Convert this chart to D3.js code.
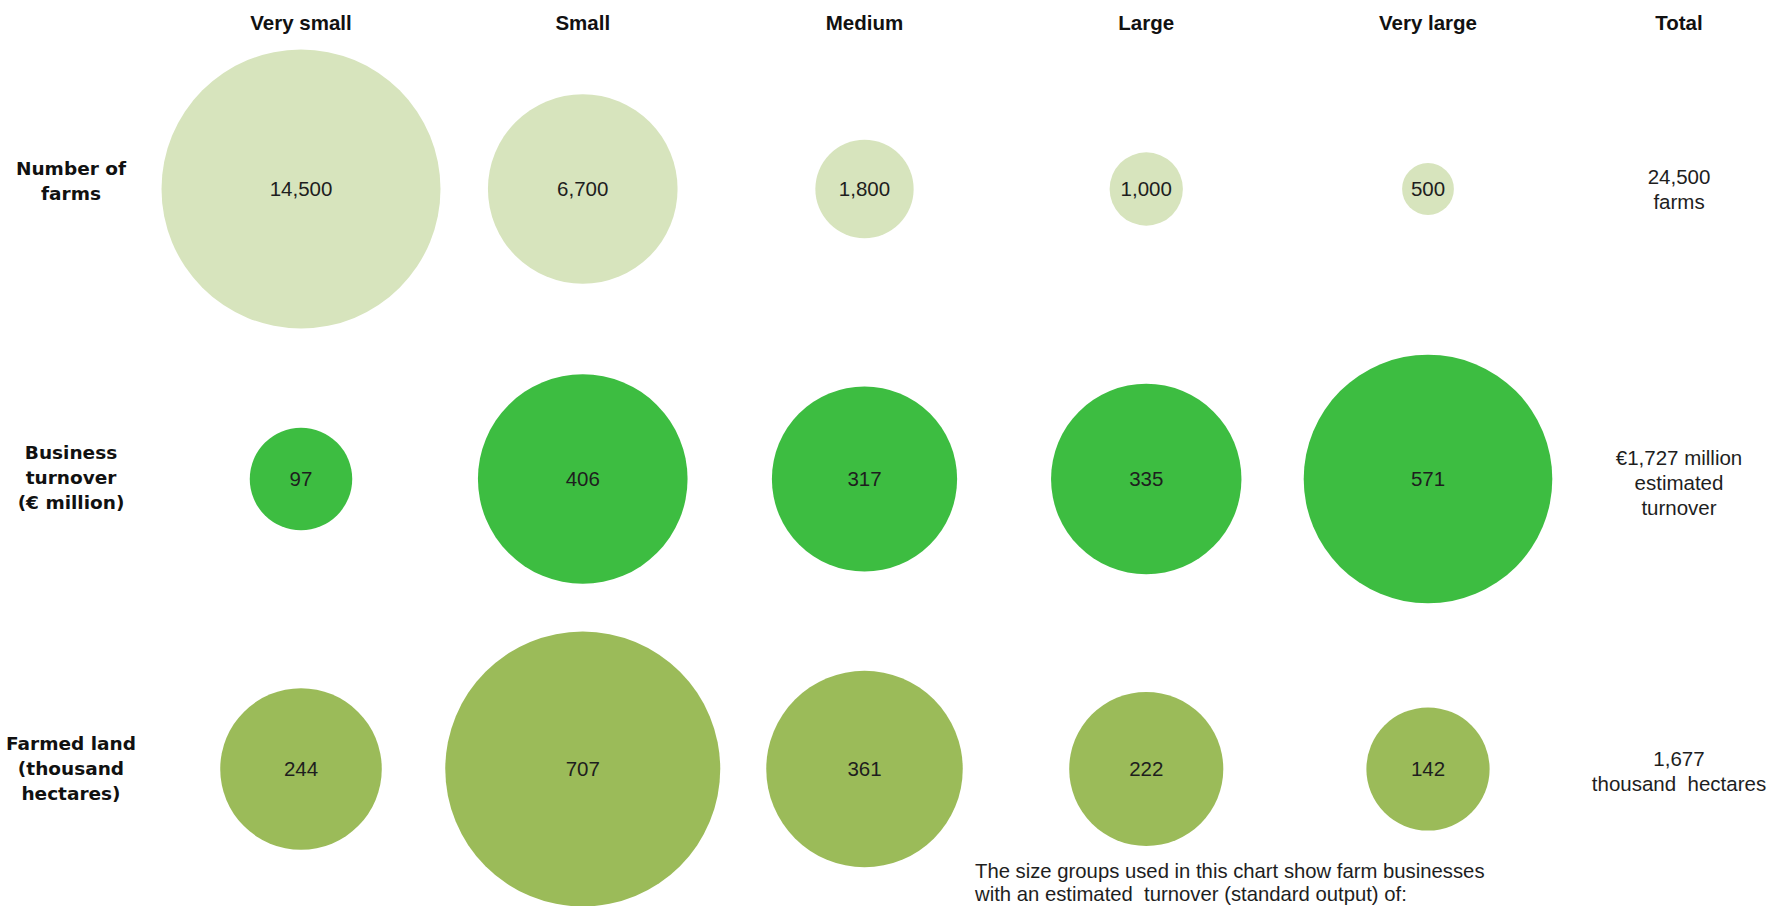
<!DOCTYPE html>
<html>
<head>
<meta charset="utf-8">
<script src="https://cdn.jsdelivr.net/npm/d3@7"></script>
<style>
  body { margin: 0; background: #fff; }
  svg { display: block; }
</style>
</head>
<body>
<div id="chart"></div>
<script>
var sizeGroups = ["Very small", "Small", "Medium", "Large", "Very large"];
var farms = [14500, 6700, 1800, 1000, 500];
var turnover = [97, 406, 317, 335, 571];
var land = [244, 707, 361, 222, 142];

var rowLabels = [
  ["Number of", "farms"],
  ["Business", "turnover", "(\u20ac million)"],
  ["Farmed land", "(thousand", "hectares)"]
];
var totalLabels = [
  ["24,500", "farms"],
  ["\u20ac1,727 million", "estimated", "turnover"],
  ["1,677", "thousand  hectares"]
];
var note = [
  "The size groups used in this chart show farm businesses",
  "with an estimated  turnover (standard output) of:"
];

var rows = [
  { values: farms, color: "#d7e4bd", rMax: 139.5, labelShift: -8, totalShift: 0 },
  { values: turnover, color: "#3dbd41", rMax: 124.3, labelShift: -1, totalShift: 4 },
  { values: land, color: "#9bbb59", rMax: 137.5, labelShift: 0, totalShift: 2 }
];

var width = 1774, height = 906;
var svg = d3.select("#chart").append("svg")
  .attr("width", width)
  .attr("height", height);

var x = d3.scalePoint().domain(sizeGroups).range([301, 1428]);
var y = d3.scalePoint().domain(d3.range(rows.length)).range([189, 769]);
var totalX = 1679;
var fmt = d3.format(",");

// column headers
svg.selectAll("text.head")
  .data(sizeGroups.concat(["Total"]))
  .enter().append("text")
  .attr("class", "head")
  .attr("x", function (d) { return d == "Total" ? totalX : x(d); })
  .attr("y", 30)
  .attr("text-anchor", "middle")
  .style("font-family", "'Liberation Sans', Arial, sans-serif")
  .style("font-weight", "bold")
  .style("font-size", "20.5px")
  .style("fill", "#111")
  .text(function (d) { return d; });

// multi-line label helper, lines centered around cy
function lines(g, arr, cx, cy, lh) {
  var t = g.append("text").attr("text-anchor", "middle");
  arr.forEach(function (s, i) {
    t.append("tspan")
      .attr("x", cx)
      .attr("y", cy + (i - (arr.length - 1) / 2) * lh)
      .attr("dy", "0.35em")
      .style("white-space", "pre")
      .text(s);
  });
  return t;
}

rows.forEach(function (row, i) {
  var r = d3.scaleSqrt().domain([0, d3.max(row.values)]).range([0, row.rMax]);
  var g = svg.append("g");

  g.selectAll("circle")
    .data(row.values)
    .enter().append("circle")
    .attr("cx", function (d, j) { return x(sizeGroups[j]); })
    .attr("cy", y(i))
    .attr("r", function (d) { return r(d); })
    .attr("fill", row.color);

  g.selectAll("text.val")
    .data(row.values)
    .enter().append("text")
    .attr("class", "val")
    .attr("x", function (d, j) { return x(sizeGroups[j]); })
    .attr("y", y(i))
    .attr("dy", "0.35em")
    .attr("text-anchor", "middle")
    .style("font-family", "'Liberation Sans', Arial, sans-serif")
    .style("font-size", "20.5px")
    .style("fill", "#1e1e1e")
    .text(function (d) { return fmt(d); });

  lines(g, rowLabels[i], 71, y(i) + row.labelShift, 25)
    .style("font-family", "'DejaVu Sans', Verdana, sans-serif")
    .style("font-weight", "bold")
    .style("font-size", "18.5px")
    .style("fill", "#111");

  lines(g, totalLabels[i], totalX, y(i) + row.totalShift, 25)
    .style("font-family", "'Liberation Sans', Arial, sans-serif")
    .style("font-size", "20.5px")
    .style("fill", "#1e1e1e");
});

// footnote
var foot = svg.append("text")
  .style("font-family", "'Liberation Sans', Arial, sans-serif")
  .style("font-size", "20.3px")
  .style("fill", "#1e1e1e");
note.forEach(function (s, i) {
  foot.append("tspan")
    .attr("x", 975)
    .attr("y", 878 + i * 23)
    .style("white-space", "pre")
    .text(s);
});
</script>
</body>
</html>
